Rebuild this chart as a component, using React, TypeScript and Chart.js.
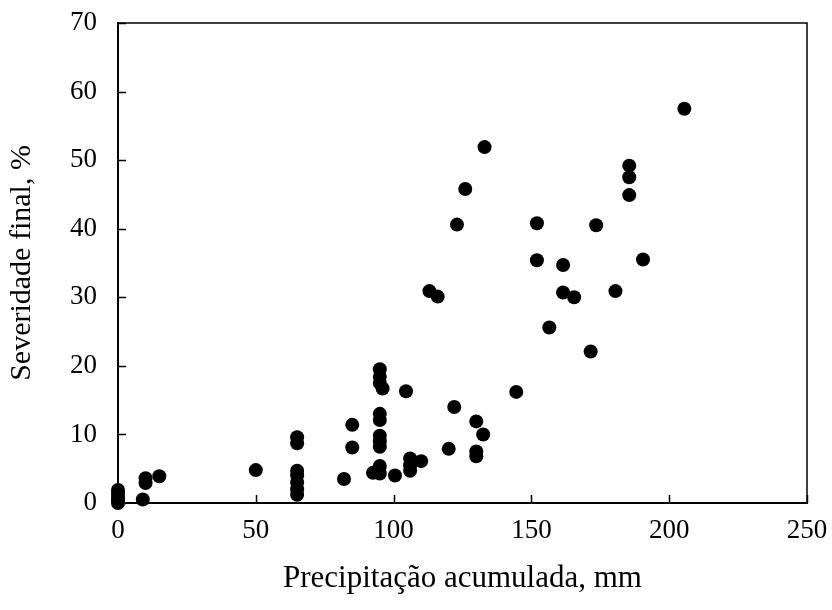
import React, { useEffect, useRef } from "react";
import { Chart, registerables } from "chart.js";

Chart.register(...registerables);

// Precipitação acumulada (mm)
const precipitation: number[] = [
  0, 0, 0, 0, 0,
  9, 10, 10, 15, 50,
  65, 65, 65, 65, 65, 65, 65,
  82, 85, 85, 92.5,
  95, 95, 95, 96,
  95, 95, 95, 95, 95, 95, 95,
  100.5, 104.5, 106, 106, 106, 110,
  113, 116, 120, 122, 123, 126,
  130, 130, 130, 132.5, 133, 144.5,
  152, 152, 156.5, 161.5, 161.5, 165.5,
  171.5, 173.5, 180.5, 185.5, 185.5, 185.5,
  190.5, 205.5,
];

// Severidade final (%)
const severity: number[] = [
  0, 0.4, 0.9, 1.4, 1.9,
  0.5, 2.9, 3.6, 3.9, 4.8,
  9.6, 8.7, 4.7, 4.0, 3.0, 2.0, 1.2,
  3.5, 11.4, 8.1, 4.4,
  19.5, 18.4, 17.5, 16.7,
  13.0, 12.1, 9.8, 9.0, 8.2, 5.4, 4.3,
  4.0, 16.3, 6.5, 5.5, 4.7, 6.1,
  30.9, 30.1, 7.9, 14.0, 40.6, 45.8,
  11.9, 7.5, 6.8, 10.0, 51.9, 16.2,
  40.8, 35.4, 25.6, 34.7, 30.7, 30.0,
  22.1, 40.5, 30.9, 49.2, 47.5, 44.9,
  35.5, 57.5,
];

const xTickValues: number[] = [0, 50, 100, 150, 200, 250];
const yTickValues: number[] = [0, 10, 20, 30, 40, 50, 60, 70];

const xTitle = "Precipitação acumulada, mm";
const yTitle = "Severidade final, %";

const FONT = "'Liberation Serif', 'Times New Roman', serif";

const frameAndTicks = {
  id: "frameAndTicks",
  beforeDatasetsDraw(chart: any) {
    const { ctx, chartArea, scales } = chart;
    const { left, right, top, bottom } = chartArea;
    ctx.save();
    ctx.strokeStyle = "#000";
    ctx.lineWidth = 1.5;
    ctx.beginPath();
    ctx.moveTo(left, top);
    ctx.lineTo(right, top);
    ctx.lineTo(right, bottom);
    ctx.stroke();
    const tl = 8;
    ctx.beginPath();
    xTickValues.forEach((v) => {
      const px = Math.round(scales.x.getPixelForValue(v)) + 0.5;
      ctx.moveTo(px, bottom);
      ctx.lineTo(px, bottom - tl);
    });
    yTickValues.forEach((v) => {
      const py = Math.round(scales.y.getPixelForValue(v)) + 0.5;
      ctx.moveTo(left, py);
      ctx.lineTo(left + tl, py);
    });
    ctx.stroke();
    ctx.restore();
  },
};

export default function App() {
  const ref = useRef<HTMLCanvasElement | null>(null);

  useEffect(() => {
    document.body.style.margin = "0";
    if (!ref.current) return;
    const points = precipitation.map((x, i) => ({ x, y: severity[i] }));
    const chart = new Chart(ref.current, {
      type: "scatter",
      data: {
        datasets: [
          {
            data: points,
            backgroundColor: "#000",
            borderColor: "#000",
            pointRadius: 7,
            pointHoverRadius: 7,
            borderWidth: 0,
            clip: false as any,
          },
        ],
      },
      options: {
        animation: false,
        responsive: true,
        maintainAspectRatio: false,
        layout: { padding: { left: 0, right: 25, top: 23, bottom: 0 } },
        plugins: {
          legend: { display: false },
          tooltip: { enabled: false },
        },
        scales: {
          x: {
            type: "linear",
            min: 0,
            max: 250,
            afterBuildTicks: (scale: any) => {
              scale.ticks = xTickValues.map((v) => ({ value: v }));
            },
            afterFit: (scale: any) => {
              scale.height = 107;
              scale.paddingLeft = 0;
              scale.paddingRight = 0;
            },
            ticks: {
              color: "#000",
              font: { family: FONT, size: 27 },
              padding: 12,
              maxRotation: 0,
            },
            grid: { display: false, drawTicks: false },
            border: { display: true, color: "#000", width: 2 },
            title: {
              display: true,
              text: xTitle,
              color: "#000",
              font: { family: FONT, size: 31, lineHeight: 1.2 },
              padding: { top: 0, bottom: 13 },
            },
          },
          y: {
            type: "linear",
            min: 0,
            max: 70,
            afterBuildTicks: (scale: any) => {
              scale.ticks = yTickValues.map((v) => ({ value: v }));
            },
            afterFit: (scale: any) => {
              scale.width = 118;
              scale.paddingTop = 0;
              scale.paddingBottom = 0;
            },
            ticks: {
              color: "#000",
              font: { family: FONT, size: 27 },
              padding: 21,
            },
            grid: { display: false, drawTicks: false },
            border: { display: true, color: "#000", width: 2 },
            title: {
              display: true,
              text: yTitle,
              color: "#000",
              font: { family: FONT, size: 30, lineHeight: 1.2 },
              padding: { top: 4, bottom: 0 },
            },
          },
        },
      },
      plugins: [frameAndTicks],
    });
    return () => chart.destroy();
  }, []);

  return (
    <div style={{ width: 832, height: 610, position: "relative" }}>
      <canvas ref={ref} />
    </div>
  );
}
